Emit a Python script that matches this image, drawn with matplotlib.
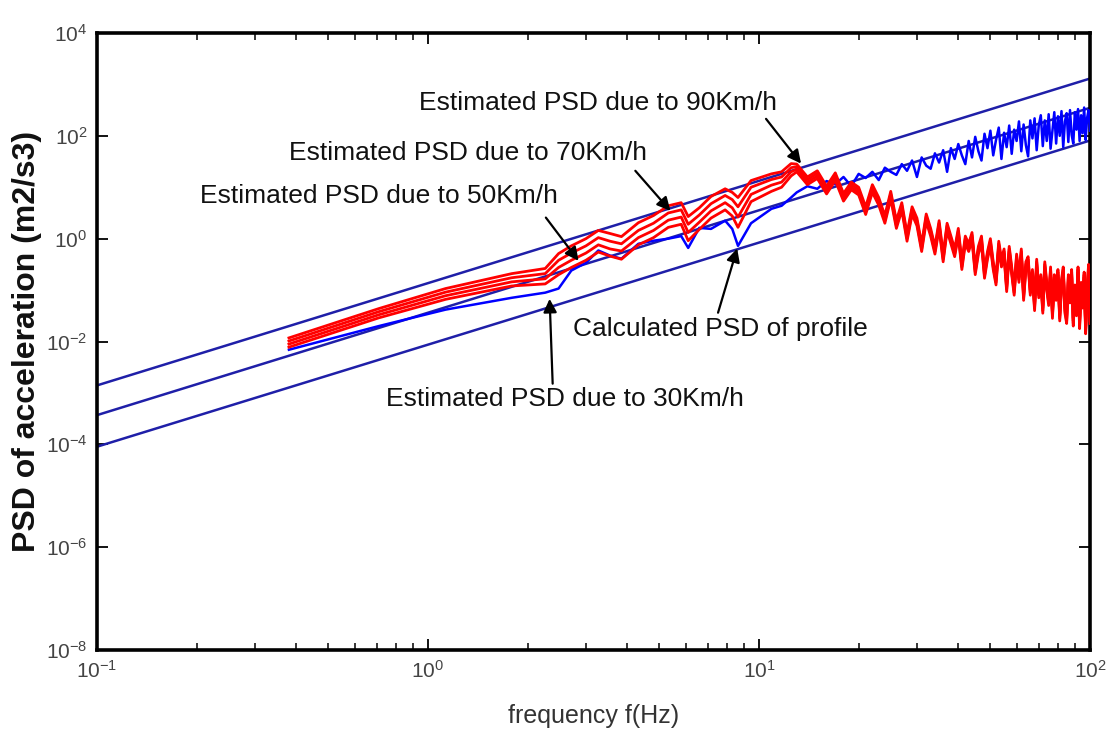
import numpy as np
import matplotlib
matplotlib.use("Agg")
import matplotlib.pyplot as plt
from matplotlib.ticker import NullLocator

plt.rcParams['font.family'] = ['Liberation Sans', 'DejaVu Sans']
plt.rcParams['mathtext.fontset'] = 'custom'
plt.rcParams['mathtext.rm'] = 'Liberation Sans'
plt.rcParams['mathtext.it'] = 'Liberation Sans:italic'
plt.rcParams['mathtext.bf'] = 'Liberation Sans:bold'

# ---------------- data ----------------
# straight reference lines (slope f^2), end points at 0.1 Hz and 100 Hz
ref_freq = [0.1, 100.0]
ref_upper = [1.4e-3, 1.3e3]
ref_middle = [3.7e-4, 3.5e2]
ref_lower = [9.0e-5, 8.1e1]

# low / mid frequency grid (Hz)
freq_lm = [0.38, 0.71, 1.13, 1.79, 2.26, 2.48, 2.71, 3.0, 3.27, 3.55, 3.84, 4.32,
           4.8, 5.32, 5.82, 6.11, 6.6, 7.16, 7.9, 8.3, 8.64, 9.46, 10.9, 11.7, 12.5]
# high frequency grid (Hz)
freq_hi = [13, 14, 15, 16, 17, 18, 19, 20, 21, 22, 23, 24, 25, 26, 27, 28, 29, 30,
           31, 32, 33, 34, 35, 36, 37, 38, 39, 40, 41, 42, 43, 44, 45, 46, 47, 48,
           49, 50, 51, 52, 53, 54, 55, 56, 57, 58, 59, 60, 61, 62, 63, 64, 65, 66,
           67, 68, 69, 70, 71, 72, 73, 74, 75, 76, 77, 78, 79, 80, 81, 82, 83, 84,
           85, 86, 87, 88, 89, 90, 91, 92, 93, 94, 95, 96, 97, 98, 99, 100]

# calculated PSD of profile (log10 of m2/s3)
profile_lm_log10 = [-2.16, -1.70, -1.38, -1.15, -1.05, -0.97, -0.62, -0.47, -0.23, -0.33,
                    -0.39, -0.10, -0.04, 0.00, 0.05, -0.18, 0.21, 0.19, 0.35, 0.19,
                    -0.14, 0.30, 0.58, 0.64, 0.80]
profile_hi_log10 = [0.90, 1.02, 0.97, 1.12, 1.06, 1.20, 1.02, 1.26, 1.18, 1.30, 1.14, 1.38, 1.30, 1.24, 1.45,
                    1.32, 1.52, 1.20, 1.58, 1.42, 1.36, 1.66, 1.48, 1.72, 1.30, 1.76, 1.55, 1.84, 1.62, 1.45,
                    1.90, 1.58, 1.98, 1.70, 1.52, 2.04, 1.76, 2.10, 1.62, 1.92, 2.16, 1.55, 2.06, 1.78, 2.20,
                    1.65, 2.12, 1.90, 2.28, 1.70, 2.22, 1.82, 1.60, 2.30, 1.95, 2.34, 1.72, 2.20, 2.40, 1.80,
                    2.30, 1.90, 2.42, 1.75, 2.10, 2.46, 1.85, 2.38, 2.00, 2.48, 1.78, 2.28, 2.44, 1.88, 2.50,
                    2.02, 1.85, 2.46, 2.12, 2.52, 1.90, 2.40, 2.05, 2.55, 1.92, 2.35, 2.50, 2.10]

# estimated PSDs (log10), speeds in km/h
speeds = [90, 70, 50, 30]
est_lm_log10 = {
    90: [-1.93, -1.36, -0.97, -0.68, -0.58, -0.29, -0.14, 0.00, 0.16, 0.10, 0.04, 0.31,
         0.45, 0.64, 0.70, 0.43, 0.60, 0.82, 0.97, 0.90, 0.80, 1.13, 1.26, 1.30, 1.46],
    70: [-1.99, -1.42, -1.04, -0.76, -0.68, -0.42, -0.28, -0.14, 0.02, -0.05, -0.10, 0.16,
         0.30, 0.50, 0.56, 0.28, 0.46, 0.68, 0.84, 0.76, 0.62, 1.00, 1.15, 1.20, 1.38],
    50: [-2.05, -1.48, -1.11, -0.84, -0.78, -0.56, -0.42, -0.28, -0.12, -0.20, -0.24, 0.02,
         0.16, 0.36, 0.42, 0.12, 0.32, 0.54, 0.70, 0.60, 0.42, 0.86, 1.04, 1.10, 1.30],
    30: [-2.11, -1.54, -1.18, -0.92, -0.88, -0.70, -0.56, -0.42, -0.26, -0.34, -0.40, -0.12,
         0.02, 0.22, 0.28, -0.04, 0.18, 0.40, 0.56, 0.44, 0.22, 0.72, 0.92, 1.00, 1.22],
}
est_hi_log10 = [1.45, 1.20, 1.32, 1.02, 1.28, 0.88, 1.10, 1.00, 0.62, 1.05, 0.80, 0.45, 0.92, 0.35, 0.70,
                0.10, 0.62, 0.40, -0.10, 0.48, 0.20, -0.15, 0.35, -0.30, 0.30, 0.05, -0.20, 0.20, -0.45, 0.05,
                -0.10, 0.12, -0.55, -0.15, 0.05, -0.62, -0.25, 0.00, -0.45, -0.75, -0.05, -0.40, -0.20, -0.88, -0.15,
                -0.55, -0.95, -0.30, -0.70, -0.20, -1.05, -0.45, -0.35, -0.95, -0.60, -1.25, -0.40, -1.00, -0.70, -1.30,
                -0.45, -0.85, -1.15, -0.55, -1.40, -0.70, -1.05, -0.60, -1.45, -0.80, -0.55, -1.30, -1.50, -0.70, -1.10,
                -0.60, -1.55, -0.90, -1.35, -0.55, -1.60, -0.85, -1.20, -0.65, -1.70, -0.95, -0.50, -1.50]
est_hi_shift_log10 = {90: 0.0, 70: -0.05, 50: -0.10, 30: -0.15}

# annotations: text, text-left (f, psd), arrow tail, arrow head
notes = [
    ("Estimated PSD due to 90Km/h", (0.94, 10 ** 2.63), (10.5, 10 ** 2.33), (13.4, 10 ** 1.46)),
    ("Estimated PSD due to 70Km/h", (0.381, 10 ** 1.67), (4.23, 10 ** 1.32), (5.40, 10 ** 0.54)),
    ("Estimated PSD due to 50Km/h", (0.204, 10 ** 0.837), (2.27, 10 ** 0.41), (2.85, 10 ** -0.43)),
    ("Calculated PSD of profile", (2.75, 10 ** -1.75), (7.52, 10 ** -1.44), (8.59, 10 ** -0.19)),
    ("Estimated PSD due to 30Km/h", (0.747, 10 ** -3.11), (2.38, 10 ** -2.82), (2.33, 10 ** -1.17)),
]

# ---------------- figure ----------------
fig = plt.figure(figsize=(11.1, 7.33), dpi=100)
ax = fig.add_axes([0.0874, 0.1132, 0.8946, 0.8418])

for ref in (ref_upper, ref_middle, ref_lower):
    ax.plot(ref_freq, ref, color='#1f1fa8', lw=1.8, zorder=2)

freq_all = np.array(freq_lm + freq_hi, dtype=float)
profile = 10 ** np.array(profile_lm_log10 + profile_hi_log10)
ax.plot(freq_all, profile, color='#0000ff', lw=1.8, zorder=3)

for sp in speeds:
    vals = np.array(est_lm_log10[sp] + list(np.array(est_hi_log10) + est_hi_shift_log10[sp]))
    ax.plot(freq_all, 10 ** vals, color='#ff0000', lw=2.0, zorder=4)

for txt, pos, tail, head in notes:
    ax.text(pos[0], pos[1], txt, ha='left', va='center', fontsize=19, color='#111111', zorder=6)
    ax.annotate('', xy=head, xytext=tail,
                arrowprops=dict(arrowstyle='-|>', color='black', lw=1.6,
                                mutation_scale=20, shrinkA=0, shrinkB=0), zorder=7)

ax.set_xscale('log')
ax.set_yscale('log')
ax.set_xlim(0.1, 100)
ax.set_ylim(1e-8, 1e4)
ax.set_yticks([1e-8, 1e-6, 1e-4, 1e-2, 1e0, 1e2, 1e4])
ax.yaxis.set_minor_locator(NullLocator())

ax.tick_params(which='both', direction='in', top=True, right=True,
               labelsize=15, labelcolor='#444444')
ax.tick_params(which='major', length=8, width=1.3, pad=7)
ax.tick_params(which='minor', length=5, width=1.1)
for s in ax.spines.values():
    s.set_linewidth(2.6)

ax.set_xlabel('frequency f(Hz)', fontsize=18, color='#333333')
ax.set_ylabel('PSD of acceleration (m2/s3)', fontsize=23, fontweight='bold', color='#111111')
ax.yaxis.set_label_coords(-0.055, 0.5)
ax.xaxis.set_label_coords(0.5, -0.088)
ax.xaxis.label.set_va('top')

fig.savefig('out.png', dpi=100)
